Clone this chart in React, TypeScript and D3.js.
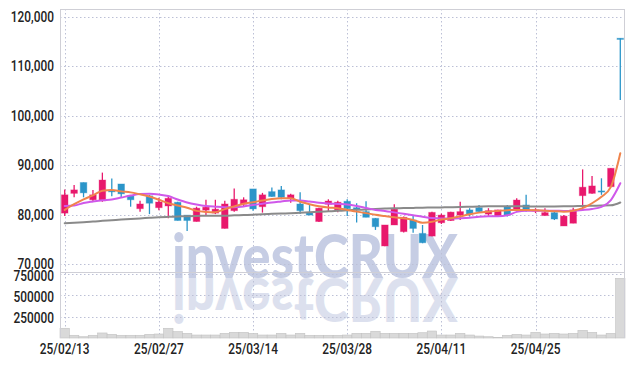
import React from 'react';
import * as d3 from 'd3';

const dates = [
  '25/02/13','25/02/14','25/02/17','25/02/18','25/02/19','25/02/20','25/02/21','25/02/24','25/02/25','25/02/26',
  '25/02/27','25/02/28','25/03/04','25/03/05','25/03/06','25/03/07','25/03/10','25/03/11','25/03/12','25/03/13',
  '25/03/14','25/03/17','25/03/18','25/03/19','25/03/20','25/03/21','25/03/24','25/03/25','25/03/26','25/03/27',
  '25/03/28','25/03/31','25/04/01','25/04/02','25/04/03','25/04/04','25/04/07','25/04/08','25/04/09','25/04/10',
  '25/04/11','25/04/14','25/04/15','25/04/16','25/04/17','25/04/18','25/04/21','25/04/22','25/04/23','25/04/24',
  '25/04/25','25/04/28','25/04/29','25/04/30','25/05/02','25/05/07','25/05/08','25/05/09','25/05/12','25/05/13',
];

const opens = [
  80300, 84300, 86500, 83000, 82800, 84900, 86200, 83800, 81200, 83800,
  81400, 81750, 82500, 79900, 78600, 80900, 80300, 77200, 80800, 82100,
  85200, 81600, 84650, 85000, 83300, 82150, 80400, 78600, 82100, 80950,
  82700, 81400, 80600, 79250, 73650, 77900, 76550, 78900, 76200, 75650,
  78350, 78800, 79900, 80950, 81400, 80100, 79700, 81600, 80950, 81950,
  80800, 79800, 80400, 77700, 78250, 83830, 84300, 84800, 85650, 115700,
];
const highs = [
  85100, 86000, 86500, 85000, 88500, 87300, 86200, 83800, 82800, 84000,
  83400, 83800, 82600, 79900, 81600, 83000, 83000, 82800, 85300, 83500,
  85200, 84400, 85500, 85800, 84200, 84500, 81950, 81400, 83100, 82800,
  83100, 82300, 82700, 79300, 77900, 82100, 79600, 79900, 77900, 80600,
  80200, 80600, 82600, 81300, 81950, 81300, 81000, 81950, 83300, 84000,
  81300, 81300, 80600, 79900, 81400, 89150, 87800, 87350, 89400, 115700,
];
const lows = [
  79700, 83500, 83500, 82600, 82600, 83700, 83500, 81600, 80600, 80100,
  80900, 79250, 78800, 76700, 78600, 79900, 80100, 77200, 80600, 81600,
  80800, 80400, 83600, 83100, 82400, 80100, 79900, 78500, 80600, 80500,
  79700, 78400, 79450, 76900, 73600, 77900, 76400, 76350, 74200, 75600,
  78100, 78700, 78900, 79600, 80400, 79700, 79600, 79600, 80600, 80600,
  80300, 79800, 78900, 77700, 78250, 81300, 84200, 84000, 85600, 103200,
];
const closes = [
  84000, 85000, 84400, 84000, 87000, 84600, 84200, 83000, 82150, 82300,
  82550, 83300, 78800, 78800, 81300, 81500, 81100, 82150, 83100, 83000,
  81150, 84000, 83650, 83500, 84000, 80800, 79900, 81300, 82750, 82500,
  81200, 81100, 79450, 77550, 77900, 81100, 79450, 77200, 74300, 80450,
  79900, 80500, 80600, 80100, 80600, 80800, 80950, 79900, 82950, 80950,
  80950, 80400, 79100, 79700, 80950, 85550, 85800, 84700, 89380, 115700,
];
const volumes = [
  114000, 32000, 15000, 32000, 59000, 43000, 32000, 32000, 32000, 43000,
  47000, 114000, 74000, 55000, 35000, 35000, 35000, 55000, 67000, 67000,
  55000, 35000, 35000, 55000, 35000, 55000, 32000, 32000, 32000, 32000,
  35000, 55000, 55000, 79000, 55000, 55000, 55000, 55000, 62000, 82000,
  35000, 35000, 55000, 35000, 23000, 15000, 8000, 32000, 43000, 35000,
  67000, 47000, 55000, 47000, 55000, 90000, 67000, 35000, 55000, 700000,
];
const ma5 = [
  80950, 82100, 83100, 83900, 84850, 85000, 84700, 84500, 84100, 83650,
  83000, 82300, 81850, 81400, 80750, 80550, 80500, 81100, 81650, 82200,
  82500, 82850, 83150, 83300, 83300, 82600, 82100, 81700, 81450, 81300,
  80950, 80600, 80300, 79950, 79700, 79450, 79250, 78900, 78350, 78550,
  79000, 79250, 79650, 80050, 80400, 80600, 80750, 80900, 80950, 80950,
  80900, 80800, 80700, 80600, 80800, 81300, 82300, 83600, 85600, 92400,
];
const ma20 = [
  81750, 81850, 82350, 82650, 82900, 83050, 83450, 83850, 84150, 84200,
  84050, 83750, 83050, 82450, 82050, 81750, 81600, 81500, 81500, 81650,
  81950, 82200, 82450, 82650, 82850, 82850, 82650, 82400, 82250, 82150,
  82050, 81750, 81350, 80950, 80750, 80450, 80150, 79850, 79550, 79300,
  79200, 79200, 79250, 79350, 79550, 79650, 79650, 79850, 80550, 80800,
  80800, 80800, 80800, 80750, 80800, 80950, 81150, 81550, 82950, 86350,
];
const ma60 = [
  78250, 78360, 78470, 78580, 78730, 78860, 79000, 79120, 79230, 79350,
  79460, 79540, 79610, 79690, 79730, 79750, 79770, 79780, 79850, 79920,
  79990, 80080, 80150, 80220, 80290, 80390, 80480, 80560, 80660, 80760,
  80870, 80960, 81040, 81130, 81210, 81280, 81320, 81360, 81400, 81430,
  81460, 81490, 81540, 81590, 81640, 81680, 81690, 81680, 81670, 81660,
  81650, 81650, 81660, 81680, 81710, 81760, 81790, 81820, 81870, 82450,
];

const priceTicks = [70000, 80000, 90000, 100000, 110000, 120000];
const volumeTicks = [250000, 500000, 750000];
const labelIdx = [0, 10, 20, 30, 40, 50];

const UP = '#e8186c';
const DOWN = '#2b95c9';

export default function App() {
  const W = 634, H = 366;
  const L = 60, R = 625, PT = 9, PB = 272, VB = 338;
  const idx = d3.range(dates.length);
  const x = d3.scaleBand<number>().domain(idx).range([L, R]).padding(0);
  const bw = x.bandwidth();
  const cx = (i: number) => (x(i) as number) + bw / 2;
  const y = d3.scaleLinear().domain([68380, 121620]).range([PB, PT]);
  const yv = d3.scaleLinear().domain([0, 774600]).range([VB, PB]);
  const fmt = d3.format(',');
  const line = d3.line<number>().x((_, i) => cx(i)).y((d) => y(d)).curve(d3.curveMonotoneX);
  const bodyW = bw * 0.7;
  const grid = '#bcc0d6';
  const font = 'Roboto, "DejaVu Sans", sans-serif';

  const label = (tx: number, ty: number, s: string, anchor: string, key: string) => (
    <text key={key} transform={`translate(${tx},${ty}) scale(0.82,1)`} textAnchor={anchor as any}
      dominantBaseline="central" fontSize={14.5} fontWeight={500} fill="#222" fontFamily={font}>{s}</text>
  );

  return (
    <svg width={W} height={H} style={{ position: 'absolute', left: 0, top: 0, background: '#fff' }}>
      {/* watermark */}
      <g fontFamily='Lato, Roboto, sans-serif' fontWeight={900} fontSize={60}>
        <text x={315} y={278} textAnchor="middle" fill="#c6cde4" textLength={286} lengthAdjust="spacingAndGlyphs">investCRUX</text>
        <g transform="translate(0,556) scale(1,-1)" opacity={0.6}>
          <text x={315} y={278} textAnchor="middle" fill="#c6cde4" textLength={286} lengthAdjust="spacingAndGlyphs">investCRUX</text>
        </g>
      </g>
      {/* grid */}
      <g stroke={grid} strokeWidth={1} strokeDasharray="1.5,2.5">
        {priceTicks.map((t) => (
          <line key={'pg' + t} x1={L} x2={R} y1={Math.round(y(t)) + 0.5} y2={Math.round(y(t)) + 0.5} />
        ))}
        {volumeTicks.map((t) => (
          <line key={'vg' + t} x1={L} x2={R} y1={Math.round(yv(t)) + 0.5} y2={Math.round(yv(t)) + 0.5} />
        ))}
        {labelIdx.map((i) => (
          <line key={'xg' + i} x1={Math.round(cx(i)) + 0.5} x2={Math.round(cx(i)) + 0.5} y1={PT} y2={VB} />
        ))}
      </g>
      {/* volume */}
      <g>
        {volumes.map((v, i) => (
          <rect key={'v' + i} x={x(i) as number} width={bw} y={yv(v)} height={VB - yv(v)}
            fill="#d9d9d9" stroke="#c2c2c2" strokeWidth={0.6} />
        ))}
      </g>
      {/* candles */}
      <g>
        {idx.map((i) => {
          const up = closes[i] > opens[i];
          const c = up ? UP : DOWN;
          const top = y(Math.max(opens[i], closes[i]));
          const bot = y(Math.min(opens[i], closes[i]));
          return (
            <g key={'c' + i}>
              <line x1={cx(i)} x2={cx(i)} y1={y(highs[i])} y2={y(lows[i])} stroke={c} strokeWidth={1.3} />
              <rect x={cx(i) - bodyW / 2} width={bodyW} y={top} height={Math.max(1.2, bot - top)} fill={c}
                stroke={c} strokeOpacity={0.35} strokeWidth={1} />
            </g>
          );
        })}
      </g>
      {/* moving averages */}
      <g fill="none" strokeLinejoin="round" strokeLinecap="round">
        <path d={line(ma60) || ''} stroke="#8a8a8a" strokeWidth={2} />
        <path d={line(ma20) || ''} stroke="#cf58ea" strokeWidth={2} />
        <path d={line(ma5) || ''} stroke="#f0844c" strokeWidth={2} />
      </g>
      {/* borders */}
      <g stroke="#cfcfd6" strokeWidth={1}>
        <line x1={L + 0.5} x2={L + 0.5} y1={PT} y2={VB} />
        <line x1={R - 0.5} x2={R - 0.5} y1={PT} y2={VB} />
        <line x1={L} x2={R} y1={PT + 0.5} y2={PT + 0.5} />
        <line x1={L} x2={R} y1={PB + 0.5} y2={PB + 0.5} />
      </g>
      {/* axis labels */}
      <g>
        {priceTicks.map((t) => label(54, y(t), fmt(t), 'end', 'pl' + t))}
        {volumeTicks.map((t) => label(54, yv(t) + 1.5, String(t), 'end', 'vl' + t))}
        {labelIdx.map((i) => label(cx(i), 349, dates[i], 'middle', 'xl' + i))}
      </g>
    </svg>
  );
}
